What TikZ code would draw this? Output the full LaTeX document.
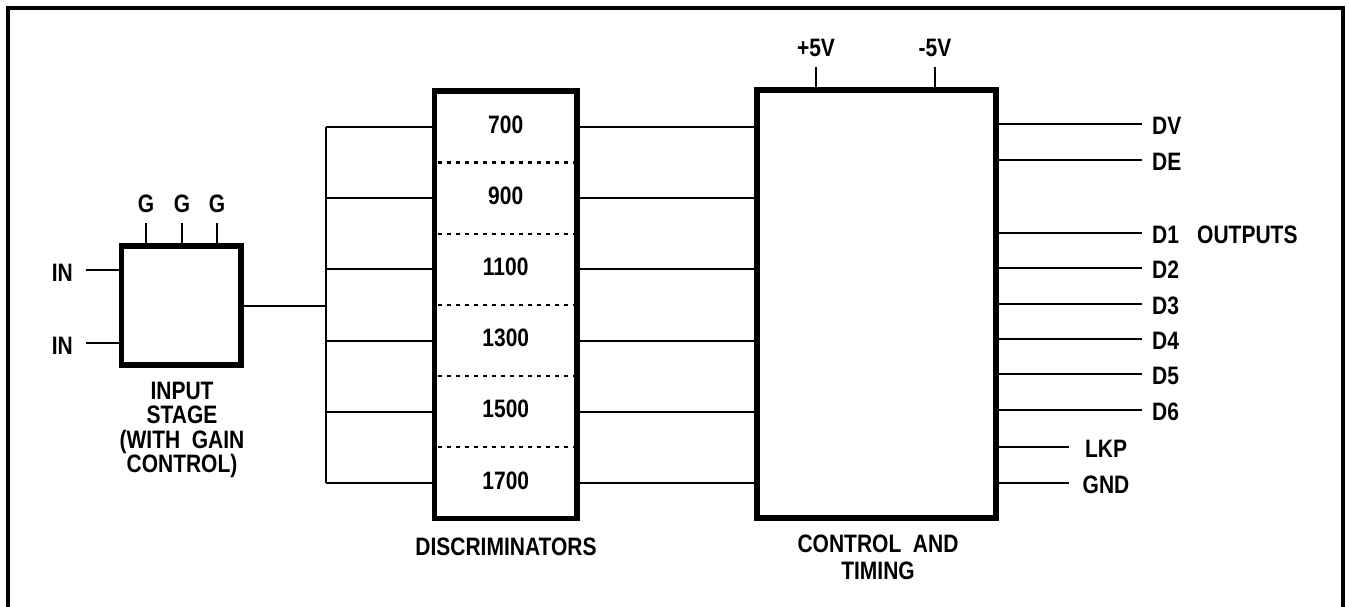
\documentclass[tikz,border=0pt]{standalone}
\usepackage{fontspec}
\setmainfont{Liberation Sans}
\newcommand{\tx}[1]{\scalebox{1}[1.2]{#1}}
\newcommand{\stk}[2]{\scalebox{1}[1.2]{\vbox{\baselineskip=#1\relax\halign{\hfil##\hfil\cr#2\crcr}}}}
\begin{document}
\begin{tikzpicture}[x=1pt,y=-1pt,
  wire/.style={line width=2pt},
  blk/.style={draw, line width=5.5pt, inner sep=0pt, outer sep=0pt},
  lbl/.style={inner sep=0pt, font=\fontsize{21}{24}\selectfont\bfseries},
  sepline/.style={line width=2.2pt, dash pattern=on 3.5pt off 5.5pt}]
\useasboundingbox (0,0) rectangle (1349,607);
\draw[line width=4pt] (8,607) -- (8,8) -- (1343,8) -- (1343,607);

% blocks
\node[blk, minimum width=119.5pt, minimum height=119pt] (inp) at (181,305.5) {};
\node[blk, minimum width=142.5pt, minimum height=427.5pt] (disc) at (505.75,304.75) {};
\node[blk, minimum width=239pt, minimum height=428pt] (ctl) at (876.5,304) {};

% inputs
\foreach \y [count=\i] in {270,343} {
  \coordinate (in\i) at (86,\y);
  \draw[wire] (in\i) -- (in\i -| inp.west);
  \node[lbl, anchor=east] (inl\i) at (73,\y+3) {\tx{IN}};
}
% gain pins
\foreach \x [count=\i] in {146,182,217} {
  \coordinate (g\i) at (\x,223);
  \draw[wire] (g\i) -- (g\i |- inp.north);
  \node[lbl] (gl\i) at (\x,203.5) {\tx{G}};
}
% bus
\coordinate (bt) at (326,127);
\coordinate (bb) at (326,483);
\draw[wire] (bt) -- (bb);
\draw[wire] (inp.east) -- (inp.east -| bt);

% discriminator rows
\foreach \y/\fq [count=\i] in {127/700,198.2/900,269.4/1100,340.6/1300,411.8/1500,483/1700} {
  \coordinate (b\i) at (326,\y);
  \draw[wire] (b\i) -- (b\i -| disc.west);
  \draw[wire] (b\i -| disc.east) -- (b\i -| ctl.west);
  \node[lbl] (f\i) at (505.75,\y-2.5) {\tx{\fq}};
}
\foreach \y in {162.5,233.7,304.9,376.1,447.3}
  \draw[sepline] (438,\y) -- (574,\y);

% power pins
\foreach \x/\nm [count=\i] in {816/+5V,935/-5V} {
  \coordinate (p\i) at (\x,67);
  \draw[wire] (p\i) -- (p\i |- ctl.north);
  \node[lbl] (pl\i) at (\x,47.5) {\tx{\nm}};
}

% outputs
\foreach \y/\nm in {124/DV,160/DE,233/D1,268/D2,304/D3,339/D4,374/D5,410/D6} {
  \coordinate (o-\nm) at (1142,\y);
  \draw[wire] (o-\nm -| ctl.east) -- (o-\nm);
  \node[lbl, anchor=west] (l-\nm) at (1152,\y+2) {\tx{\nm}};
}
\foreach \y/\nm in {447/LKP,483/GND} {
  \coordinate (o-\nm) at (1069,\y);
  \draw[wire] (o-\nm -| ctl.east) -- (o-\nm);
  \node[lbl] (l-\nm) at (1106,\y+2) {\tx{\nm}};
}
\node[lbl, anchor=west] (outs) at (1197,235) {\tx{OUTPUTS}};

% captions
\node[lbl] (discl) at (506,547) {\tx{DISCRIMINATORS}};
\node[lbl] (ctll) at (878,557.5) {\stk{22.5pt}{CONTROL\ \ AND\cr TIMING}};
\node[lbl] (inpl) at (182,430) {\stk{20.4pt}{INPUT\cr STAGE\cr (WITH\ \ GAIN\cr CONTROL)}};
\end{tikzpicture}
\end{document}
